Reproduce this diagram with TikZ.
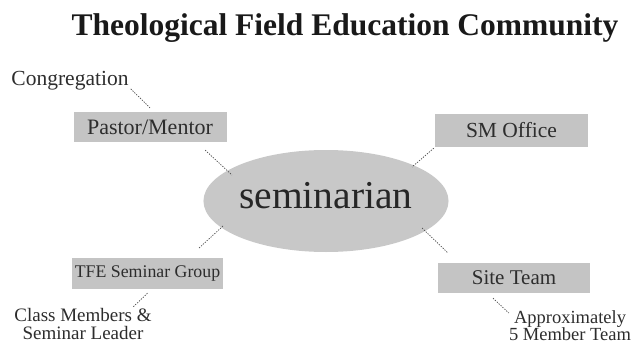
\documentclass[tikz,border=0pt]{standalone}
\usepackage{fontspec}
\setmainfont{Liberation Serif}
\usetikzlibrary{shapes.geometric}
\definecolor{boxgray}{RGB}{196,196,196}
\definecolor{ellgray}{RGB}{200,200,200}
\definecolor{txtgray}{RGB}{45,45,45}
\begin{document}
\begin{tikzpicture}[x=1pt,y=1pt,
  box/.style={rectangle, fill=boxgray, inner sep=0pt, minimum width=152pt, minimum height=31pt, text=txtgray},
  plain/.style={inner sep=0pt, text=txtgray},
  conn/.style={draw=black!70, line width=0.7pt, dash pattern=on 1.3pt off 1.3pt}]
\useasboundingbox (0,0) rectangle (637,346);

\node[anchor=base, inner sep=0pt, text=black!90, font=\fontsize{31.5}{34}\selectfont\bfseries] (title) at (345,310) {Theological Field Education Community};

\node[plain, anchor=base, font=\fontsize{21.5}{24}\selectfont] (cong) at (70,260) {Congregation};

\node[box, minimum width=153pt, minimum height=30pt, font=\fontsize{22}{24}\selectfont] (pastor) at (150,219) {Pastor/Mentor};
\node[box, minimum width=153pt, minimum height=32pt, font=\fontsize{21.5}{24}\selectfont] (sm) at (511.5,215.5) {SM Office};
\node[box, minimum width=151pt, minimum height=31pt, font=\fontsize{17.8}{20}\selectfont] (tfe) at (147.5,72.5) {TFE Seminar Group};
\node[box, minimum width=152pt, minimum height=30pt, font=\fontsize{21}{23}\selectfont] (site) at (514,68) {Site Team};

\node[ellipse, fill=ellgray, inner sep=0pt, minimum width=200pt, minimum height=102pt,
      text height=26pt, text depth=12pt, text=black!85, font=\fontsize{39.5}{44}\selectfont] (sem) at (326,145) {seminarian};

\node[plain, align=center, font=\fontsize{19}{18}\selectfont] (class) at (83,22) {Class Members \&\\Seminar Leader};
\node[plain, align=center, font=\fontsize{18.5}{17.5}\selectfont] (approx) at (570,20.5) {Approximately\\5 Member Team};

\draw[conn] ([shift={(2,2)}]cong.south east) -- ([shift={(0,4)}]pastor.north);
\draw[conn] ([shift={(-21.5,-8)}]pastor.south east) -- ([shift={(-94,26)}]sem.center);
\draw[conn] ([shift={(-1,-1.5)}]sm.south west) -- ([shift={(86,34)}]sem.center);
\draw[conn] ([shift={(-103,-25)}]sem.center) -- ([shift={(-25,9)}]tfe.north east);
\draw[conn] ([shift={(0,-4)}]tfe.south) -- ([shift={(50,1)}]class.north);
\draw[conn] ([shift={(96,-27)}]sem.center) -- ([shift={(10,10)}]site.north west);
\draw[conn] ([shift={(-21,-5)}]site.south) -- ([shift={(0,-3)}]approx.north west);
\end{tikzpicture}
\end{document}
